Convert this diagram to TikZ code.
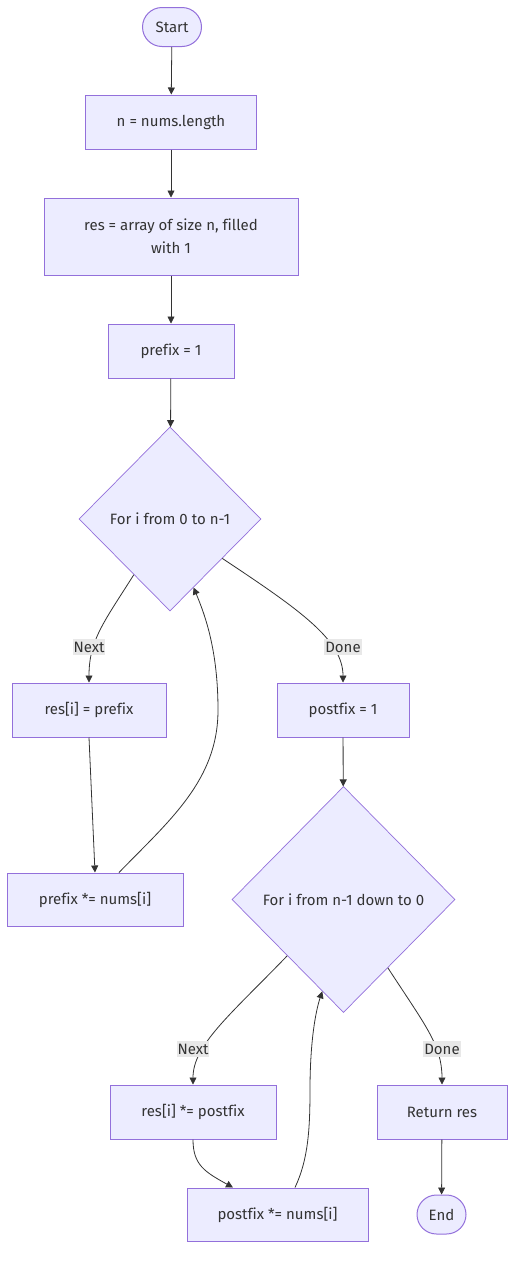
\documentclass[tikz,border=0pt]{standalone}
\usepackage{fontspec}
\setmainfont[Ligatures=NoCommon]{Fira Sans}
\usetikzlibrary{shapes.geometric,shapes.misc,arrows.meta}
\definecolor{nfill}{HTML}{ECECFF}
\definecolor{nline}{HTML}{9370DB}
\definecolor{ecol}{HTML}{333333}
\definecolor{lblbg}{HTML}{E8E8E8}
\tikzset{
  x=1pt,y=-1pt,
  every node/.style={font=\fontsize{15}{23}\selectfont, text=ecol},
  box/.style={draw=nline, fill=nfill, line width=1pt, rectangle, inner sep=0pt, align=center},
  term/.style={draw=nline, fill=nfill, line width=1pt, rounded rectangle, inner sep=0pt},
  dec/.style={draw=nline, fill=nfill, line width=0.7pt, diamond, aspect=1, inner sep=0pt},
  arr/.style={draw=ecol, line width=0.8pt, -{Triangle[length=7pt,width=7pt]}},
  lbl/.style={fill=lblbg, inner xsep=1pt, inner ysep=3pt}
}
\begin{document}
\begin{tikzpicture}
\useasboundingbox (0,0) rectangle (530,1267);
\node[term, minimum width=59, minimum height=39] (start) at (172,27) {Start};
\node[box, minimum width=171, minimum height=54] (n) at (171,122) {n = nums.length};
\node[box, minimum width=254, minimum height=77] (res) at (171,236.5) {res = array of size n, filled\\with 1};
\node[box, minimum width=126, minimum height=54] (pre) at (171,351) {prefix = 1};
\node[dec, minimum width=182, minimum height=184] (d1) at (170,519) {For i from 0 to n-1};
\node[box, minimum width=154, minimum height=54] (r1) at (89,710) {res[i] = prefix};
\node[box, minimum width=132, minimum height=54] (pf) at (343,710) {postfix = 1};
\node[box, minimum width=176, minimum height=53] (pm) at (95,899.5) {prefix *= nums[i]};
\node[dec, minimum width=223, minimum height=226] (d2) at (343.5,899.5) {For i from n-1 down to 0};
\node[box, minimum width=166, minimum height=54] (r2) at (193,1112) {res[i] *= postfix};
\node[box, minimum width=130, minimum height=54] (ret) at (442,1112) {Return res};
\node[box, minimum width=181, minimum height=53] (pmp) at (277.5,1214.5) {postfix *= nums[i]};
\node[term, minimum width=49, minimum height=39] (end) at (441.5,1214.5) {End};

\coordinate (l1) at (89,647);
\coordinate (l2) at (343,647);
\coordinate (l3) at (193,1049);
\coordinate (l4) at (442,1049);

\draw[arr] (start) -- (n);
\draw[arr] (n) -- (res);
\draw[arr] (res) -- (pre);
\draw[arr] (pre) -- (d1);
\draw[arr] (d1.237) .. controls (104,622) and (89,640) .. (r1.north);
\draw[arr] (d1.323) .. controls (300,610) and (343,640) .. (pf.north);
\draw[arr] (r1.south) -- (pm.north);
\draw[arr] ([xshift=24]pm.north) .. controls (170,820) and (218,780) .. (218,710)
   .. controls (218,650) and (205,615) .. (d1.289);
\draw[arr] (pf) -- (d2);
\draw[arr] (d2.225) .. controls (230,1015) and (193,1045) .. (r2.north);
\draw[arr] (d2.303) .. controls (425,1025) and (442,1045) .. (ret.north);
\draw[arr] (r2.south) .. controls (193,1165) and (205,1172) .. ([xshift=-44.5]pmp.north);
\draw[arr] ([xshift=17.5]pmp.north) .. controls (308,1160) and (310,1130) .. (310,1090)
   .. controls (310,1040) and (316,1010) .. (d2.257);
\draw[arr] (ret) -- (end);

\node[lbl] (t1) at (l1) {Next};
\node[lbl] (t2) at (l2) {Done};
\node[lbl] (t3) at (l3) {Next};
\node[lbl] (t4) at (l4) {Done};
\end{tikzpicture}
\end{document}
